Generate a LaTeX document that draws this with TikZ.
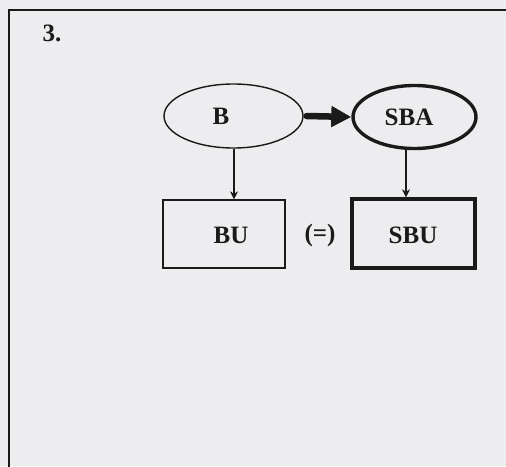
\documentclass[tikz,border=0pt]{standalone}
\usepackage{fontspec}
\setmainfont{Liberation Serif}
\usetikzlibrary{shapes.geometric,arrows.meta}
\definecolor{paper}{HTML}{EDEDEF}
\definecolor{ink}{HTML}{1A1A1A}
\tikzset{
  lbl/.style={font=\fontsize{25pt}{28pt}\selectfont\bfseries, text=ink, inner sep=0pt},
  ellnode/.style={ellipse, draw=ink, inner sep=0pt},
  boxnode/.style={rectangle, draw=ink, inner sep=0pt},
  thinline/.style={draw=ink, line width=1.4pt},
  thickline/.style={draw=ink, line width=3.4pt},
  smallarrow/.style={draw=ink, line width=1.2pt, -{Stealth[length=8pt,width=8pt]}},
  bigarrow/.style={draw=ink, line width=6.5pt, line cap=round, -{Triangle[length=20pt,width=20pt]}}
}
\begin{document}
\begin{tikzpicture}[x=1pt,y=-1pt]
\useasboundingbox (0,0) rectangle (506,466);
\fill[paper] (0,0) rectangle (506,466);
\draw[ink, line width=2pt] (9,480) -- (9,10) -- (520,10);
\node[lbl, anchor=center] (num) at (52,33) {3.};
\node[ellnode, thinline, minimum width=139pt, minimum height=64pt] (B) at (233.5,116) {};
\node[lbl] (Bt) at (221,116) {B};
\node[ellnode, thickline, minimum width=123pt, minimum height=63pt] (SBA) at (414.5,117) {};
\node[lbl] (SBAt) at (409,117) {SBA};
\node[boxnode, thinline, minimum width=122pt, minimum height=68pt] (BU) at (224,234) {};
\node[lbl] (BUt) at (231,235) {BU};
\node[boxnode, thickline, minimum width=123pt, minimum height=69pt] (SBU) at (413.5,233.5) {};
\node[lbl] (SBUt) at (413,235) {SBU};
\node[lbl] (eq) at (320,235) {(=)};
\draw[bigarrow] ([xshift=3pt]B.east) -- (SBA.west);
\draw[smallarrow] (B.south -| 234,0) -- (BU.north -| 234,0);
\draw[smallarrow] (SBA.south -| 406,0) -- (SBU.north -| 406,0);
\end{tikzpicture}
\end{document}
